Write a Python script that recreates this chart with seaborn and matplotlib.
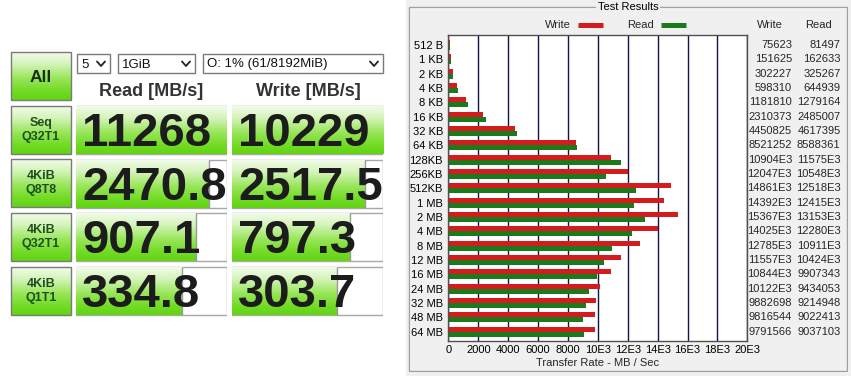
import numpy as np
import pandas as pd
import matplotlib
matplotlib.use("Agg")
import matplotlib.pyplot as plt
import seaborn as sns
from matplotlib.patches import Rectangle
from matplotlib.colors import LinearSegmentedColormap
from matplotlib.lines import Line2D

# ------------------------------------------------------------------ data
cdm_tests = ["Seq\nQ32T1", "4KiB\nQ8T8", "4KiB\nQ32T1", "4KiB\nQ1T1"]
cdm_read = [11268, 2470.8, 907.1, 334.8]
cdm_write = [10229, 2517.5, 797.3, 303.7]
cdm_read_labels = ["11268", "2470.8", "907.1", "334.8"]
cdm_write_labels = ["10229", "2517.5", "797.3", "303.7"]
cdm_options = ["5", "1GiB", "O: 1% (61/8192MiB)"]

atto_sizes = ["512 B", "1 KB", "2 KB", "4 KB", "8 KB", "16 KB", "32 KB", "64 KB",
              "128KB", "256KB", "512KB", "1 MB", "2 MB", "4 MB", "8 MB", "12 MB",
              "16 MB", "24 MB", "32 MB", "48 MB", "64 MB"]
atto_write_kb = [75623, 151625, 302227, 598310, 1181810, 2310373, 4450825, 8521252,
                 10904000, 12047000, 14861000, 14392000, 15367000, 14025000, 12785000,
                 11557000, 10844000, 10122000, 9882698, 9816544, 9791566]
atto_read_kb = [81497, 162633, 325267, 644939, 1279164, 2485007, 4617395, 8588361,
                11575000, 10548000, 12518000, 12415000, 13153000, 12280000, 10911000,
                10424000, 9907343, 9434053, 9214948, 9022413, 9037103]
x_ticks = [0, 2000, 4000, 6000, 8000, 10000, 12000, 14000, 16000, 18000, 20000]
x_tick_labels = ["0", "2000", "4000", "6000", "8000", "10E3", "12E3", "14E3",
                 "16E3", "18E3", "20E3"]

# ------------------------------------------------------------------ style
sns.set_style("white")
plt.rcParams["font.family"] = ["Liberation Sans", "DejaVu Sans"]

W, H = 851, 376
fig = plt.figure(figsize=(W / 100, H / 100), dpi=100)
fig.patch.set_facecolor("white")

def fx(px):
    return px / W

def fy(py):
    return 1 - py / H

green_cmap = LinearSegmentedColormap.from_list(
    "cdm", [(0.0, "#f2fbea"), (0.25, "#d3f4b8"), (0.55, "#98e65a"),
            (0.8, "#74dc28"), (1.0, "#62d412")])
grad = np.linspace(0, 1, 64).reshape(-1, 1)

# background axes in pixel coordinates
bg = fig.add_axes([0, 0, 1, 1], zorder=-5)
bg.set_xlim(0, W)
bg.set_ylim(H, 0)
bg.axis("off")

def gradient_box(ax, x0, y0, w, h, edge="#7a7a7a"):
    r = Rectangle((x0, y0), w, h, facecolor="none", edgecolor=edge, lw=1, zorder=3)
    ax.add_patch(r)
    im = ax.imshow(grad, cmap=green_cmap, extent=(x0, x0 + w, y0 + h, y0),
                   origin="upper", aspect="auto", zorder=2, interpolation="bilinear")
    im.set_clip_path(r)

# ---- left (CrystalDiskMark-like) panel
gradient_box(bg, 11, 52, 60, 48)
bg.text(41, 77, "All", ha="center", va="center", fontsize=12.5,
        fontweight="bold", color="#1a2e1a")

box_x = [(77, 110), (118, 195), (203, 383)]
for (x0, x1), txt in zip(box_x, cdm_options):
    bg.add_patch(Rectangle((x0, 54), x1 - x0, 19, facecolor="white",
                           edgecolor="#7a7a7a", lw=1))
    bg.text(x0 + 4, 64.5, txt, ha="left", va="center", fontsize=9.5, color="#111111")
    cx = x1 - 9
    bg.add_line(Line2D([cx - 4, cx, cx + 4], [61.5, 66, 61.5], color="#222222", lw=1.3))

bg.text(151.5, 92, "Read [MB/s]", ha="center", va="center", fontsize=13,
        fontweight="bold", color="#333333")
bg.text(308, 92, "Write [MB/s]", ha="center", va="center", fontsize=13,
        fontweight="bold", color="#333333")

row_tops = [106, 159, 213, 267]
for top, lab in zip(row_tops, cdm_tests):
    gradient_box(bg, 11, top, 60, 48)
    l1, l2 = lab.split("\n")
    bg.text(41, top + 17, l1, ha="center", va="center", fontsize=9,
            fontweight="bold", color="#1e4f1e")
    bg.text(41, top + 31, l2, ha="center", va="center", fontsize=9,
            fontweight="bold", color="#1e4f1e")

# meter axes drawn with seaborn bars
pitch = 53.7
row_h = 48 / pitch
y_top = 130 - pitch / 2
y_bot = 291 + pitch / 2

def meter_axes(x0, x1, values, labels):
    ax = fig.add_axes([fx(x0), fy(y_bot), fx(x1 - x0), (y_bot - y_top) / H], zorder=1)
    fracs = [min(1.0, np.log10(v * 10) / 5.0) for v in values]
    ax.barh(range(len(values)), [1] * len(values), height=row_h, color="white",
            edgecolor="#a8a8a8", lw=1, zorder=0)
    n0 = len(ax.patches)
    sns.barplot(x=fracs, y=list(range(len(values))), orient="h", width=row_h,
                color="#7ee03a", linewidth=0, ax=ax, native_scale=True)
    for p in ax.patches[n0:]:
        p.set_facecolor("none")
        bx, by = p.get_x(), p.get_y()
        bw, bh = p.get_width(), p.get_height()
        im = ax.imshow(grad, cmap=green_cmap, extent=(bx, bx + bw, by + bh, by),
                       origin="upper", aspect="auto", zorder=1, interpolation="bilinear")
        im.set_clip_path(p)
        if bw < 0.999:
            ax.vlines(bx + bw, by, by + bh, color="#9a9a9a", lw=1, zorder=2)
    for i, t in enumerate(labels):
        ax.text(0.04, i + 0.30, t, ha="left", va="baseline", fontsize=34,
                fontweight="bold", color="#1c1c1c", zorder=5)
    ax.set_xlim(0, 1)
    ax.set_ylim(3.5, -0.5)
    ax.axis("off")
    return ax

meter_axes(76, 227, cdm_read, cdm_read_labels)
meter_axes(232, 383, cdm_write, cdm_write_labels)

# ---- right (ATTO-like) panel
bg.add_patch(Rectangle((406, 0), W - 406, H, facecolor="#f0f0f0", edgecolor="none", zorder=0))
gb = (409, 7, 847, 371)
bg.add_patch(Rectangle((gb[0] + 1, gb[1] + 1), gb[2] - gb[0], gb[3] - gb[1],
                       facecolor="none", edgecolor="white", lw=1, zorder=1))
bg.add_patch(Rectangle((gb[0], gb[1]), gb[2] - gb[0], gb[3] - gb[1],
                       facecolor="none", edgecolor="#a0a0a0", lw=1, zorder=1))
bg.text(628, 7, "Test Results", ha="center", va="center", fontsize=8, color="black",
        zorder=2, bbox=dict(facecolor="#f0f0f0", edgecolor="none", pad=1.5))

ax2 = fig.add_axes([fx(448.5), fy(340.7), fx(747.3 - 448.5), (340.7 - 35) / H], zorder=1)
ax2.set_facecolor("white")
df = pd.DataFrame({
    "size": atto_sizes * 2,
    "series": ["Write"] * len(atto_sizes) + ["Read"] * len(atto_sizes),
    "mbps": np.array(atto_write_kb + atto_read_kb, dtype=float) / 1000.0,
})
red, green = "#d41c1c", "#1b7a1b"
sns.barplot(data=df, y="size", x="mbps", hue="series", hue_order=["Write", "Read"],
            order=atto_sizes, palette={"Write": red, "Read": green}, orient="h",
            width=0.7, saturation=1, errorbar=None, legend=False, linewidth=0, ax=ax2)
ax2.set_xlim(0, 20000)
ax2.set_ylim(20.63, -0.7)
ax2.set_xticks(x_ticks)
ax2.set_xticklabels(x_tick_labels)
ax2.set_axisbelow(True)
ax2.xaxis.grid(True, color="#14144a", lw=1)
ax2.yaxis.grid(False)
ax2.tick_params(axis="both", length=0, labelsize=8, colors="black")
ax2.tick_params(axis="x", pad=3)
ax2.tick_params(axis="y", pad=4)
ax2.set_ylabel("")
ax2.set_xlabel("Transfer Rate - MB / Sec", fontsize=8, labelpad=2)
for s in ax2.spines.values():
    s.set_color("#505050")
    s.set_linewidth(1)

def atto_fmt(v):
    v = int(v)
    return f"{v // 1000}E3" if v >= 10_000_000 else str(v)

yt = ax2.get_yaxis_transform()
ax_w = 747.3 - 448.5
def afrac(px):
    return (px - 448.5) / ax_w
for i, (wv, rv) in enumerate(zip(atto_write_kb, atto_read_kb)):
    ax2.text(afrac(792), i, atto_fmt(wv), transform=yt, ha="right", va="center",
             fontsize=8, clip_on=False)
    ax2.text(afrac(840.5), i, atto_fmt(rv), transform=yt, ha="right", va="center",
             fontsize=8, clip_on=False)

hy = (340.7 - 25) / (340.7 - 35)
ax2.text(afrac(770), hy, "Write", transform=ax2.transAxes, ha="center", va="center", fontsize=8)
ax2.text(afrac(818), hy, "Read", transform=ax2.transAxes, ha="center", va="center", fontsize=8)
ax2.text(afrac(571), hy, "Write", transform=ax2.transAxes, ha="right", va="center", fontsize=8)
ax2.text(afrac(654), hy, "Read", transform=ax2.transAxes, ha="right", va="center", fontsize=8)
ax2.add_line(Line2D([afrac(578), afrac(603)], [hy, hy], transform=ax2.transAxes,
                    color=red, lw=3.6, clip_on=False, solid_capstyle="butt"))
ax2.add_line(Line2D([afrac(661), afrac(686)], [hy, hy], transform=ax2.transAxes,
                    color=green, lw=3.6, clip_on=False, solid_capstyle="butt"))

fig.savefig("out.png", dpi=100, facecolor=fig.get_facecolor())
